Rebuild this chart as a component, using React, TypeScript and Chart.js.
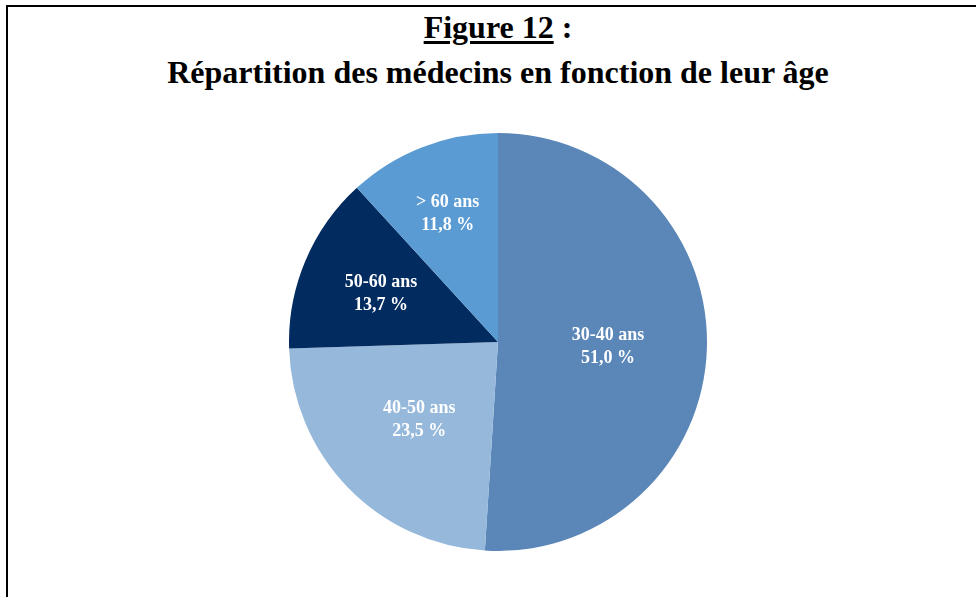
import React, { useEffect, useRef } from "react";
import { Chart, registerables } from "chart.js";

Chart.register(...registerables);

const categories: string[] = ["30-40 ans", "40-50 ans", "50-60 ans", "> 60 ans"];
const values: number[] = [51.0, 23.5, 13.7, 11.8];
const sliceColors: string[] = ["#5B86B8", "#95B8DB", "#022B5F", "#5B9BD3"];
const labelRadiusFrac: number[] = [0.527, 0.524, 0.607, 0.665];

const fmtPct = (v: number) => v.toFixed(1).replace(".", ",") + " %";

const labelPlugin = {
  id: "sliceLabels",
  afterDatasetsDraw(chart: any) {
    const ctx = chart.ctx;
    const meta = chart.getDatasetMeta(0);
    ctx.save();
    ctx.fillStyle = "#ffffff";
    ctx.font = "bold 18px 'Liberation Serif', 'Times New Roman', serif";
    ctx.textAlign = "center";
    ctx.textBaseline = "alphabetic";
    meta.data.forEach((arc: any, i: number) => {
      const p = arc.getProps(["x", "y", "startAngle", "endAngle", "outerRadius"], true);
      const mid = (p.startAngle + p.endAngle) / 2;
      const r = p.outerRadius * labelRadiusFrac[i];
      const ax = p.x + Math.cos(mid) * r;
      const ay = p.y + Math.sin(mid) * r;
      ctx.fillText(categories[i], ax, ay - 5.5);
      ctx.fillText(fmtPct(values[i]), ax, ay + 17.5);
    });
    ctx.restore();
  },
};

function PieChart() {
  const ref = useRef<HTMLCanvasElement | null>(null);
  useEffect(() => {
    if (!ref.current) return;
    const chart = new Chart(ref.current, {
      type: "pie",
      data: {
        labels: categories,
        datasets: [
          {
            data: values,
            backgroundColor: sliceColors,
            borderWidth: 0,
          },
        ],
      },
      options: {
        animation: false,
        responsive: false,
        maintainAspectRatio: false,
        layout: { padding: 0 },
        plugins: {
          legend: { display: false },
          tooltip: { enabled: false },
          title: { display: false },
        },
      },
      plugins: [labelPlugin],
    });
    return () => chart.destroy();
  }, []);
  return (
    <canvas
      ref={ref}
      width={418}
      height={418}
      style={{ position: "absolute", left: 289, top: 133, width: 418, height: 418 }}
    />
  );
}

export default function App() {
  const titleFont = "'Liberation Serif', 'Times New Roman', serif";
  return (
    <div
      style={{
        position: "fixed",
        left: 0,
        top: 0,
        width: 976,
        height: 597,
        background: "#ffffff",
        overflow: "hidden",
      }}
    >
      <div
        style={{
          position: "absolute",
          left: 6,
          top: 5,
          width: 1000,
          height: 700,
          borderLeft: "2px solid #000",
          borderTop: "2px solid #000",
        }}
      />
      <div
        style={{
          position: "absolute",
          left: 0,
          top: 5,
          width: 996,
          textAlign: "center",
          fontFamily: titleFont,
          fontWeight: "bold",
          fontSize: 32,
          lineHeight: "45px",
          color: "#000",
        }}
      >
        <div>
          <span
            style={{
              textDecoration: "underline",
              textDecorationThickness: "2.5px",
              textUnderlineOffset: "3px",
            }}
          >
            Figure 12
          </span>{" "}
          :
        </div>
        <div>Répartition des médecins en fonction de leur âge</div>
      </div>
      <PieChart />
    </div>
  );
}
